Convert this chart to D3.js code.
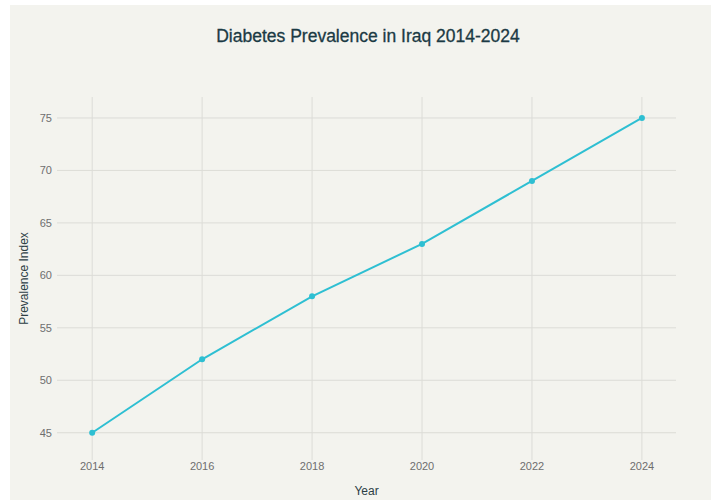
<!DOCTYPE html>
<html>
<head>
<meta charset="utf-8">
<script src="https://cdn.jsdelivr.net/npm/d3@7"></script>
<style>
  body { margin: 0; background: #fff; }
  svg { display: block; font-family: "Liberation Sans", Arial, sans-serif; }
</style>
</head>
<body>
<svg id="chart" width="711" height="500"></svg>
<script>
// data
const years = [2014, 2016, 2018, 2020, 2022, 2024]
const prevalence = [45, 52, 58, 63, 69, 75]
const yTicks = [45, 50, 55, 60, 65, 70, 75]

const width = 711, height = 500
const margin = { top: 97, right: 35, bottom: 40, left: 57 }

const svg = d3.select('#chart')

// page background (leaves a thin white strip top/left like the original)
svg.append('rect')
    .attr('x', 10).attr('y', 5)
    .attr('width', width - 10).attr('height', height - 5)
    .attr('fill', '#f3f3ee')

const x = d3.scaleLinear()
    .domain([2013.36, 2024.62])
    .range([margin.left, width - margin.right])

const y = d3.scaleLinear()
    .domain([42.4, 77])
    .range([height - margin.bottom, margin.top])

// grid
svg.append('g')
    .selectAll('line')
    .data(years)
    .join('line')
    .attr('x1', d => x(d)).attr('x2', d => x(d))
    .attr('y1', y.range()[1]).attr('y2', y.range()[0])
    .attr('stroke', '#dcdcd7').attr('stroke-width', 1)

svg.append('g')
    .selectAll('line')
    .data(yTicks)
    .join('line')
    .attr('x1', x.range()[0]).attr('x2', x.range()[1])
    .attr('y1', d => y(d)).attr('y2', d => y(d))
    .attr('stroke', '#dcdcd7').attr('stroke-width', 1)

// tick labels
svg.append('g')
    .selectAll('text')
    .data(yTicks)
    .join('text')
    .attr('x', x.range()[0] - 5)
    .attr('y', d => y(d))
    .attr('dy', '0.35em')
    .attr('text-anchor', 'end')
    .attr('fill', '#6e6e6e')
    .style('font-size', '11px')
    .text(d => d)

svg.append('g')
    .selectAll('text')
    .data(years)
    .join('text')
    .attr('x', d => x(d))
    .attr('y', height - margin.bottom + 10)
    .attr('text-anchor', 'middle')
    .attr('fill', '#6e6e6e')
    .style('font-size', '11px')
    .text(d => d)

// axis titles
svg.append('text')
    .attr('x', (x.range()[0] + x.range()[1]) / 2)
    .attr('y', 495)
    .attr('text-anchor', 'middle')
    .attr('fill', '#2c3e45')
    .style('font-size', '12px')
    .text('Year')

svg.append('text')
    .attr('transform', `translate(28, ${(y.range()[0] + y.range()[1]) / 2}) rotate(-90)`)
    .attr('text-anchor', 'middle')
    .attr('fill', '#2c3e45')
    .style('font-size', '12px')
    .text('Prevalence Index')

// title
svg.append('text')
    .attr('x', 368)
    .attr('y', 42)
    .attr('text-anchor', 'middle')
    .attr('fill', '#1b3a44')
    .attr('stroke', '#1b3a44')
    .attr('stroke-width', 0.3)
    .style('font-size', '17.5px')
    .text('Diabetes Prevalence in Iraq 2014-2024')

// line + markers
const pts = years.map((yr, i) => [yr, prevalence[i]])

svg.append('path')
    .datum(pts)
    .attr('fill', 'none')
    .attr('stroke', '#2ebfd2')
    .attr('stroke-width', 2)
    .attr('d', d3.line().x(d => x(d[0])).y(d => y(d[1])))

svg.append('g')
    .selectAll('circle')
    .data(pts)
    .join('circle')
    .attr('cx', d => x(d[0]))
    .attr('cy', d => y(d[1]))
    .attr('r', 3)
    .attr('fill', '#2ebfd2')
</script>
</body>
</html>
